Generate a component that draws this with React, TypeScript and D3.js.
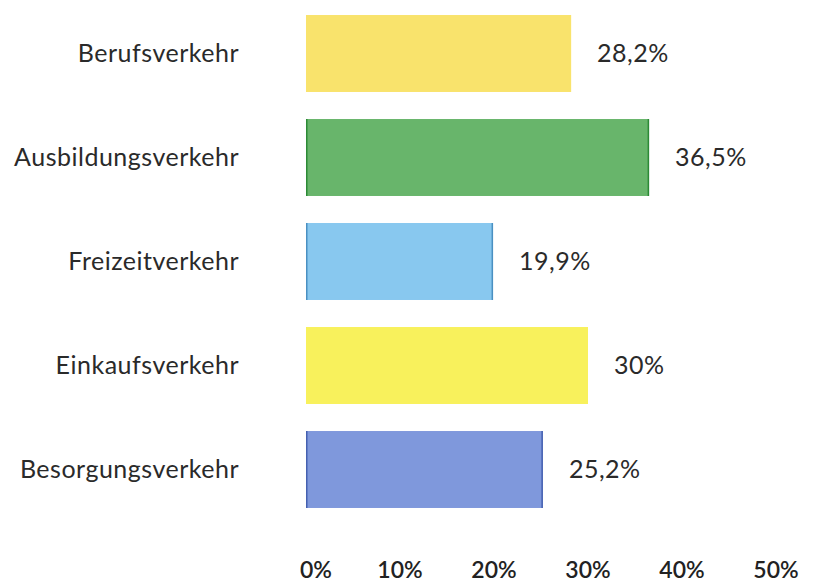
import React from 'react';
import * as d3 from 'd3';

const categories = ['Berufsverkehr', 'Ausbildungsverkehr', 'Freizeitverkehr', 'Einkaufsverkehr', 'Besorgungsverkehr'];
const values = [28.2, 36.5, 19.9, 30, 25.2];
const valueLabels = ['28,2%', '36,5%', '19,9%', '30%', '25,2%'];
const fills = ['#f9e36c', '#68b56b', '#88c8ef', '#f8f15c', '#7f98dc'];
const edges = ['#f9e36c', '#2c8a36', '#4a90c2', '#f8f15c', '#4560b0'];
const ticks = [0, 10, 20, 30, 40, 50];

const W = 836;
const H = 584;
const FONT = 'Lato, "Open Sans", sans-serif';

const App: React.FC = () => {
  const x = d3.scaleLinear().domain([0, 50]).range([306, 776]);
  const y = d3.scaleBand<string>().domain(categories).range([1.5, 521.5]).paddingInner(0.26).paddingOuter(0.13);
  const bw = y.bandwidth();

  return (
    <svg width={W} height={H} style={{ position: 'absolute', left: 0, top: 0, background: '#fff' }}>
      {categories.map((c, i) => {
        const y0 = y(c) as number;
        const cy = y0 + bw / 2;
        return (
          <g key={c}>
            <text x={239} y={cy} dy="0.35em" textAnchor="end" fontFamily={FONT} fontSize={25} letterSpacing={0.5} fill="#2a2a2a">
              {c}
            </text>
            <rect x={x(0)} y={y0} width={x(values[i]) - x(0)} height={bw} fill={fills[i]} />
            {/* darker edge lines on the ends, as in the print */}
            <line x1={x(0) + 0.75} x2={x(0) + 0.75} y1={y0} y2={y0 + bw} stroke={edges[i]} strokeWidth={1.5} />
            <line x1={x(values[i]) - 0.75} x2={x(values[i]) - 0.75} y1={y0} y2={y0 + bw} stroke={edges[i]} strokeWidth={1.5} />
            <text x={x(values[i]) + 26} y={cy} dy="0.35em" fontFamily={FONT} fontSize={25} letterSpacing={0.5} fill="#2a2a2a">
              {valueLabels[i]}
            </text>
          </g>
        );
      })}
      {ticks.map(t => (
        <text key={t} x={x(t) + (t === 0 ? 10 : 0)} y={578} textAnchor="middle" fontFamily={FONT} fontWeight={600} fontSize={23} fill="#222">
          {t}%
        </text>
      ))}
    </svg>
  );
};

export default App;
